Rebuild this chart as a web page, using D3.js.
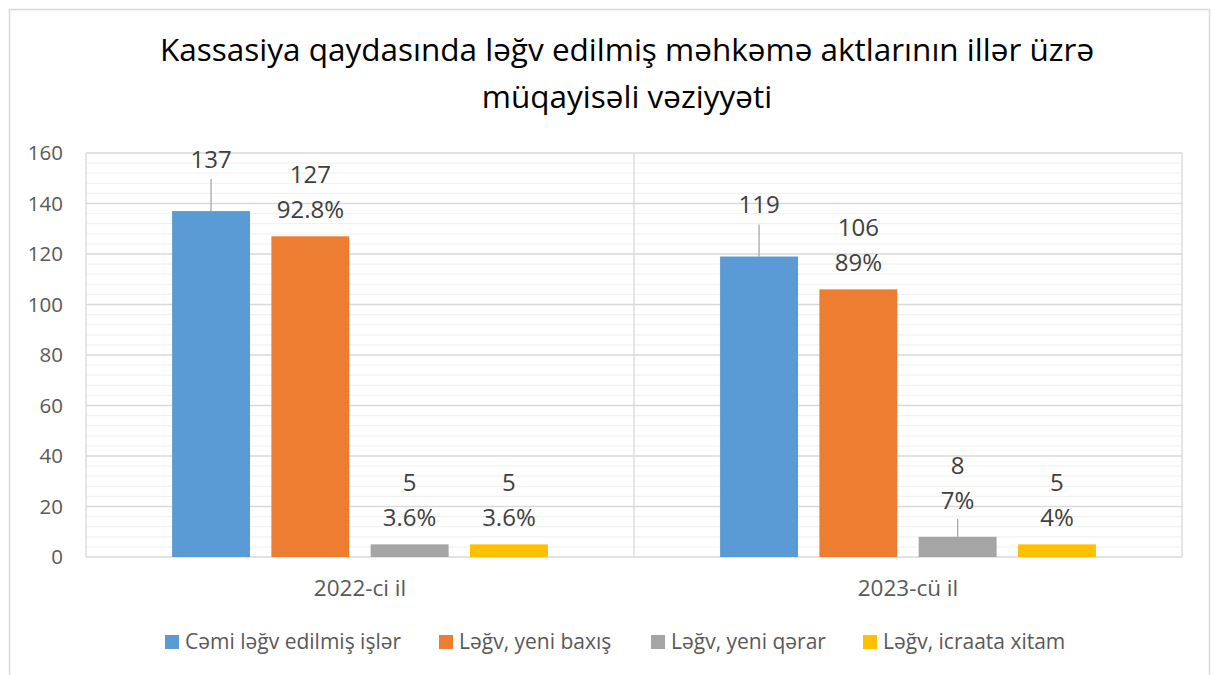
<!DOCTYPE html>
<html>
<head>
<meta charset="utf-8">
<script src="https://cdn.jsdelivr.net/npm/d3@7"></script>
<style>
  body { margin: 0; background: #fff; }
  text { font-family: "Open Sans", Lato, sans-serif; }
</style>
</head>
<body>
<script>
// chart data
var years = ["2022-ci il", "2023-cü il"];
var seriesNames = ["Cəmi ləğv edilmiş işlər", "Ləğv, yeni baxış", "Ləğv, yeni qərar", "Ləğv, icraata xitam"];
var colors = ["#5b9bd5", "#ed7d31", "#a5a5a5", "#ffc000"];
var values2022 = [137, 127, 5, 5];
var values2023 = [119, 106, 8, 5];
var percent2022 = [null, "92.8%", "3.6%", "3.6%"];
var percent2023 = [null, "89%", "7%", "4%"];
var yTicks = [0, 20, 40, 60, 80, 100, 120, 140, 160];

var width = 1212, height = 675;
var svg = d3.select("body").append("svg")
    .attr("width", width)
    .attr("height", height);

// outer frame
svg.append("rect")
    .attr("x", 9.5).attr("y", 9.5)
    .attr("width", 1200).attr("height", 700)
    .attr("fill", "none")
    .attr("stroke", "#d9d9d9")
    .attr("stroke-width", 1.5);

// title
var title = svg.append("text")
    .attr("text-anchor", "middle")
    .attr("font-size", 31.5)
    .attr("fill", "#000");
title.append("tspan").attr("x", 627).attr("y", 61).text("Kassasiya qaydasında ləğv edilmiş məhkəmə aktlarının illər üzrə");
title.append("tspan").attr("x", 627).attr("y", 108).text("müqayisəli vəziyyəti");

var plotL = 86, plotR = 1182, plotT = 153, plotB = 557;

var y = d3.scaleLinear().domain([0, 160]).range([plotB, plotT]);
var x0 = d3.scaleBand().domain(years).range([plotL, plotR]);
var x1 = d3.scaleBand().domain(seriesNames)
    .range([0, x0.bandwidth()])
    .paddingInner(0.215)
    .paddingOuter(0.867);

// minor grid every 4
var minor = d3.range(0, 161, 4).filter(function(v) { return v % 20 != 0; });
svg.selectAll(".minor").data(minor).enter().append("line")
    .attr("x1", plotL).attr("x2", plotR)
    .attr("y1", function(d) { return y(d); })
    .attr("y2", function(d) { return y(d); })
    .attr("stroke", "#f2f2f2")
    .attr("stroke-width", 1.3);

// major grid
svg.selectAll(".major").data(yTicks).enter().append("line")
    .attr("x1", plotL).attr("x2", plotR)
    .attr("y1", function(d) { return y(d); })
    .attr("y2", function(d) { return y(d); })
    .attr("stroke", "#d9d9d9")
    .attr("stroke-width", 1.3);

// vertical lines: plot border and category divider
[plotL, x0(years[1]), plotR].forEach(function(px) {
    svg.append("line")
        .attr("x1", px).attr("x2", px)
        .attr("y1", plotT).attr("y2", plotB)
        .attr("stroke", "#d9d9d9")
        .attr("stroke-width", 1.3);
});

// y axis labels
svg.selectAll(".ytick").data(yTicks).enter().append("text")
    .attr("x", 63)
    .attr("y", function(d) { return y(d); })
    .attr("dy", "0.35em")
    .attr("text-anchor", "end")
    .attr("font-size", 20.5)
    .attr("fill", "#595959")
    .text(function(d) { return d; });

// category labels
svg.selectAll(".xlab").data(years).enter().append("text")
    .attr("x", function(d) { return x0(d) + x0.bandwidth() / 2; })
    .attr("y", 588)
    .attr("dy", "0.35em")
    .attr("text-anchor", "middle")
    .attr("font-size", 22.5)
    .attr("fill", "#595959")
    .text(function(d) { return d; });

var groups = [
    { year: years[0], vals: values2022, pct: percent2022 },
    { year: years[1], vals: values2023, pct: percent2023 }
];

var labelColor = "#404040";
function label(cx, cy, txt) {
    svg.append("text")
        .attr("x", cx).attr("y", cy)
        .attr("dy", "0.35em")
        .attr("text-anchor", "middle")
        .attr("font-size", 24)
        .attr("fill", labelColor)
        .text(txt);
}
function leader(cx, y1, len) {
    svg.append("line")
        .attr("x1", cx).attr("x2", cx)
        .attr("y1", y1).attr("y2", y1 - len)
        .attr("stroke", "#a6a6a6").attr("stroke-width", 1.3);
}

groups.forEach(function(g) {
    g.vals.forEach(function(v, i) {
        var bx = x0(g.year) + x1(seriesNames[i]);
        var cx = bx + x1.bandwidth() / 2;
        svg.append("rect")
            .attr("x", bx)
            .attr("y", y(v))
            .attr("width", x1.bandwidth())
            .attr("height", y(0) - y(v))
            .attr("fill", colors[i]);

        if (g.pct[i] == null) {
            // single label pulled up with leader line
            leader(cx, y(v), 32);
            label(cx, y(v) - (g.year == years[0] ? 51 : 52), v);
        } else {
            var shift = 0;
            if (v > 5 && v < 20) {
                // small bar label nudged up with leader line
                shift = 9;
                leader(cx, y(v), 18);
            }
            label(cx, y(v) - 62 - shift, v);
            label(cx, y(v) - 27 - shift, g.pct[i]);
        }
    });
});

// legend
var legendX = [165, 439, 651, 863];
seriesNames.forEach(function(name, i) {
    svg.append("rect")
        .attr("x", legendX[i]).attr("y", 635)
        .attr("width", 14).attr("height", 14)
        .attr("fill", colors[i]);
    svg.append("text")
        .attr("x", legendX[i] + 20).attr("y", 642)
        .attr("dy", "0.35em")
        .attr("font-size", 21)
        .attr("fill", "#595959")
        .text(name);
});
</script>
</body>
</html>
